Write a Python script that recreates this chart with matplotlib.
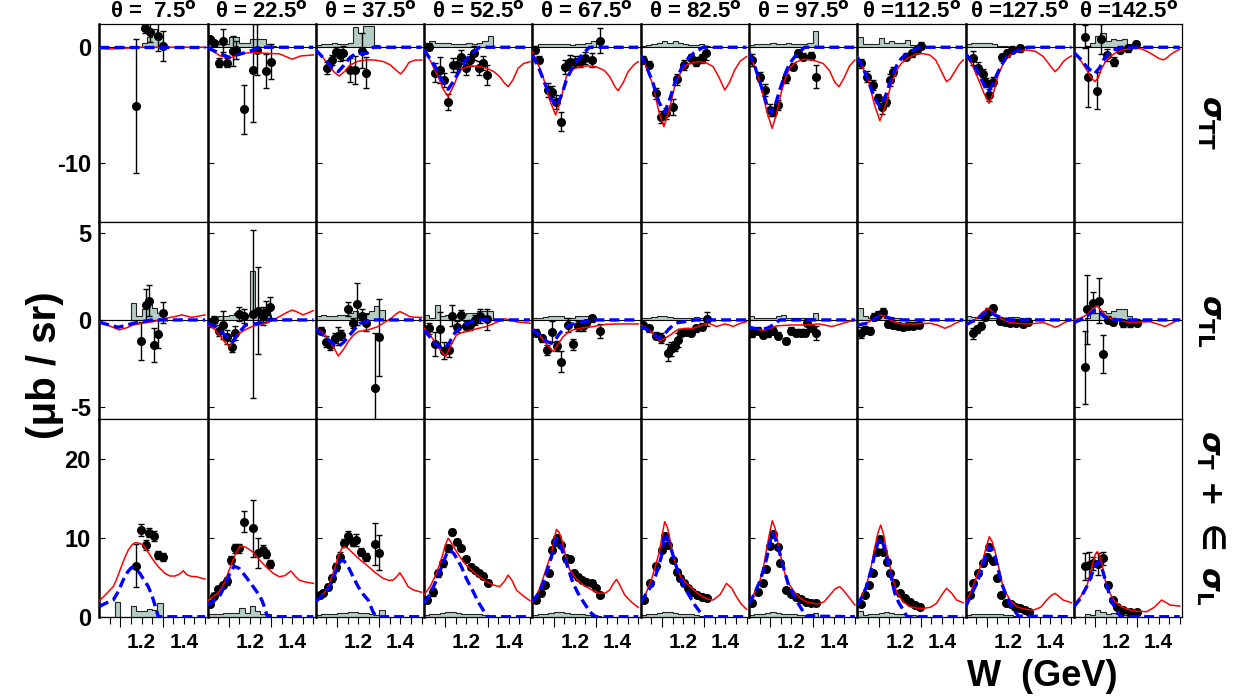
import matplotlib.pyplot as plt
from matplotlib.ticker import FixedLocator, NullFormatter, FixedFormatter

plt.rcParams['font.family'] = ['Liberation Sans', 'DejaVu Sans']
plt.rcParams['font.weight'] = 'bold'
plt.rcParams['axes.unicode_minus'] = False

# angoli (gradi) delle colonne
angles = [7.5, 22.5, 37.5, 52.5, 67.5, 82.5, 97.5, 112.5, 127.5, 142.5]

# bin dell'errore sistematico (GeV)
sys_edges = [1.0, 1.025, 1.05, 1.075, 1.1, 1.125, 1.15, 1.175, 1.2, 1.225, 1.25, 1.275, 1.3, 1.325]

# ---------------- sigma_TT ----------------
TT_W = [
    [1.173, 1.216, 1.239, 1.279, 1.299],
    [1.011, 1.031, 1.052, 1.071, 1.093, 1.118, 1.134, 1.173, 1.216, 1.232, 1.276, 1.300],
    [1.054, 1.074, 1.094, 1.113, 1.129, 1.16, 1.184, 1.216, 1.236],
    [1.024, 1.05, 1.074, 1.093, 1.113, 1.137, 1.153, 1.176, 1.197, 1.216, 1.236, 1.26, 1.276, 1.298],
    [1.011, 1.031, 1.074, 1.09, 1.113, 1.137, 1.153, 1.176, 1.2, 1.224, 1.247, 1.279, 1.318],
    [1.011, 1.039, 1.071, 1.094, 1.118, 1.15, 1.169, 1.205, 1.236, 1.26, 1.29, 1.31],
    [1.016, 1.05, 1.074, 1.098, 1.113, 1.137, 1.176, 1.208, 1.232, 1.257, 1.295, 1.315],
    [1.015, 1.047, 1.075, 1.096, 1.115, 1.135, 1.154, 1.169, 1.229, 1.256, 1.28, 1.3],
    [1.033, 1.06, 1.08, 1.096, 1.112, 1.128, 1.17, 1.194, 1.217, 1.257],
    [1.052, 1.068, 1.107, 1.13, 1.154, 1.189, 1.217, 1.257, 1.293],
]
TT_V = [
    [-5.06, 1.64, 1.29, 0.98, 0.11],
    [0.69, 0.34, -1.32, 0.55, -1.32, -0.29, -0.23, -5.34, -1.95, -0.23, -2.04, -1.24],
    [-1.81, -1.09, -0.37, -0.66, -0.52, -1.95, -1.95, -0.29, -2.18],
    [0.06, -2.18, -1.95, -2.82, -4.68, -1.52, -1.52, -0.8, -1.81, -1.09, -0.52, -1.81, -1.38, -2.39],
    [-0.23, -1.09, -3.68, -3.82, -4.68, -6.4, -1.67, -1.24, -1.24, -1.24, -0.95, -1.09, 0.57],
    [-1.09, -1.52, -3.97, -5.98, -5.69, -5.11, -2.76, -1.52, -0.95, -1.24, -0.95, -0.52],
    [-1.09, -2.53, -3.68, -5.4, -5.55, -4.97, -2.67, -1.67, -0.52, -0.8, -0.75, -2.53],
    [-1.38, -2.53, -3.25, -4.4, -5.11, -4.68, -2.82, -2.1, -0.8, -0.52, -0.23, 0.11],
    [-0.95, -1.81, -2.3, -3.05, -4.11, -2.96, -0.86, -0.52, -0.23, -0.09],
    [0.92, -2.53, -3.74, 0.69, -0.66, -1.24, -0.23, -0.09, 0.26],
]
TT_E = [
    [5.8, 0.4, 0.8, 1.3, 1.3],
    [0.2, 0.2, 0.4, 1.0, 0.4, 1.3, 0.8, 2.1, 4.5, 2.2, 1.5, 1.5],
    [0.5, 0.4, 0.4, 0.5, 0.6, 1.0, 1.2, 1.5, 1.3],
    [0.3, 0.8, 1.1, 0.6, 0.7, 0.6, 0.6, 0.6, 0.6, 0.5, 0.6, 0.6, 0.6, 0.9],
    [0.3, 0.3, 0.6, 0.5, 0.6, 0.8, 0.6, 0.6, 0.5, 0.5, 0.5, 0.6, 1.1],
    [0.3, 0.3, 0.5, 0.5, 0.5, 0.7, 0.5, 0.4, 0.4, 0.4, 0.4, 0.6],
    [0.5, 0.4, 0.5, 0.5, 0.4, 0.4, 0.4, 0.3, 0.3, 0.3, 0.3, 1.0],
    [0.4, 0.5, 0.4, 0.4, 0.6, 0.4, 0.5, 0.4, 0.3, 0.3, 0.3, 0.3],
    [0.6, 0.5, 0.4, 0.4, 0.5, 0.4, 0.3, 0.3, 0.3, 0.3],
    [1.0, 2.6, 1.6, 1.3, 0.5, 0.4, 0.3, 0.3, 0.3],
]
TT_red_W = [
    [1.0, 1.05, 1.1, 1.15, 1.2, 1.3, 1.4, 1.5],
    [1.0, 1.03, 1.06, 1.1, 1.14, 1.18, 1.22, 1.28, 1.34, 1.37, 1.40, 1.44, 1.5],
    [1.0, 1.03, 1.06, 1.09, 1.11, 1.135, 1.16, 1.2, 1.24, 1.28, 1.32, 1.35, 1.375, 1.4, 1.42, 1.44, 1.47, 1.5],
    [1.0, 1.03, 1.066, 1.09, 1.113, 1.14, 1.169, 1.2, 1.23, 1.26, 1.295, 1.33, 1.357, 1.38, 1.397, 1.42, 1.444, 1.47, 1.5],
    [1.0, 1.03, 1.05, 1.08, 1.11, 1.135, 1.16, 1.19, 1.224, 1.26, 1.30, 1.34, 1.365, 1.39, 1.405, 1.43, 1.452, 1.48, 1.5],
    [1.0, 1.03, 1.058, 1.085, 1.109, 1.135, 1.161, 1.19, 1.216, 1.25, 1.279, 1.31, 1.342, 1.37, 1.397, 1.42, 1.444, 1.47, 1.5],
    [1.0, 1.03, 1.058, 1.085, 1.109, 1.13, 1.153, 1.175, 1.192, 1.22, 1.255, 1.30, 1.35, 1.38, 1.405, 1.425, 1.45, 1.475, 1.5],
    [1.0, 1.05, 1.08, 1.106, 1.13, 1.161, 1.185, 1.208, 1.24, 1.28, 1.31, 1.342, 1.37, 1.39, 1.421, 1.44, 1.46, 1.48, 1.5],
    [1.0, 1.03, 1.055, 1.085, 1.11, 1.13, 1.154, 1.18, 1.21, 1.25, 1.29, 1.33, 1.367, 1.4, 1.422, 1.44, 1.461, 1.48, 1.5],
    [1.0, 1.03, 1.06, 1.08, 1.099, 1.115, 1.131, 1.15, 1.17, 1.2, 1.233, 1.27, 1.31, 1.34, 1.375, 1.4, 1.422, 1.44, 1.454, 1.48, 1.5],
]
TT_red = [
    [-0.1, -0.15, -0.1, -0.05, 0.0, 0.0, 0.0, 0.0],
    [-0.1, -0.4, -0.75, -0.95, -0.7, -0.5, -0.46, -0.52, -0.57, -0.8, -1.03, -0.75, -0.66],
    [-0.23, -0.8, -1.55, -2.2, -2.47, -2.1, -1.55, -1.2, -1.09, -1.1, -1.24, -1.5, -1.9, -2.3, -1.9, -1.3, -1.1, -1.1],
    [-0.23, -1.2, -2.53, -3.6, -4.25, -3.3, -1.95, -1.7, -1.61, -1.65, -1.81, -2.1, -2.53, -3.1, -3.39, -2.8, -1.81, -1.4, -1.24],
    [-0.4, -1.6, -2.53, -4.5, -5.83, -4.4, -2.53, -1.9, -1.67, -1.6, -1.67, -2.0, -2.53, -3.4, -3.74, -3.0, -2.1, -1.5, -1.24],
    [-0.66, -1.9, -3.25, -5.5, -6.84, -5.4, -3.25, -2.1, -1.52, -1.3, -1.24, -1.35, -1.67, -2.6, -3.68, -3.0, -1.95, -1.2, -0.8],
    [-0.52, -1.8, -3.5, -5.6, -6.98, -5.7, -3.82, -2.5, -1.81, -1.3, -1.03, -1.1, -1.4, -2.0, -3.0, -3.4, -2.6, -1.6, -1.1],
    [-0.8, -2.7, -4.9, -6.32, -5.2, -3.1, -2.0, -1.38, -0.9, -0.57, -0.55, -0.66, -1.1, -1.81, -2.96, -2.7, -2.1, -1.5, -1.09],
    [-0.66, -1.5, -2.53, -3.9, -4.83, -4.0, -2.39, -1.3, -0.66, -0.35, -0.23, -0.35, -0.8, -1.6, -2.1, -1.8, -1.24, -0.95, -0.75],
    [-0.4, -1.1, -1.95, -2.6, -2.96, -2.6, -1.81, -1.2, -0.8, -0.45, -0.23, -0.1, -0.09, -0.3, -0.66, -0.95, -1.09, -0.9, -0.66, -0.35, -0.17],
]
TT_blue_W = [
    [1.0, 1.5],
    [1.0, 1.05, 1.1, 1.15, 1.2, 1.244, 1.5],
    [1.0, 1.05, 1.08, 1.106, 1.13, 1.16, 1.19, 1.24, 1.26, 1.27, 1.5],
    [1.0, 1.05, 1.085, 1.113, 1.14, 1.17, 1.2, 1.235, 1.263, 1.5],
    [1.0, 1.03, 1.058, 1.085, 1.113, 1.14, 1.16, 1.185, 1.208, 1.24, 1.27, 1.5],
    [1.0, 1.03, 1.058, 1.085, 1.113, 1.14, 1.16, 1.19, 1.216, 1.25, 1.295, 1.5],
    [1.0, 1.03, 1.058, 1.085, 1.106, 1.125, 1.145, 1.17, 1.192, 1.225, 1.263, 1.5],
    [1.0, 1.025, 1.05, 1.08, 1.106, 1.135, 1.161, 1.185, 1.208, 1.25, 1.295, 1.5],
    [1.0, 1.025, 1.052, 1.08, 1.107, 1.128, 1.146, 1.17, 1.194, 1.24, 1.29, 1.5],
    [1.0, 1.03, 1.06, 1.08, 1.099, 1.12, 1.139, 1.16, 1.186, 1.233, 1.5],
]
TT_blue = [
    [0.0, 0.0],
    [-0.05, -0.45, -0.86, -0.6, -0.35, 0.0, 0.0],
    [-0.23, -1.2, -1.8, -2.1, -1.6, -0.9, -0.52, -0.52, -0.3, 0.0, 0.0],
    [-0.23, -1.6, -2.9, -3.62, -2.9, -1.9, -1.0, -0.4, 0.0, 0.0],
    [-0.66, -1.8, -3.1, -4.3, -5.1, -4.0, -2.82, -1.9, -1.24, -0.5, 0.0, 0.0],
    [-0.66, -1.8, -3.1, -4.7, -5.6, -4.3, -3.1, -1.9, -1.09, -0.5, 0.0, 0.0],
    [-0.46, -1.8, -3.39, -5.0, -5.69, -4.9, -3.68, -2.3, -1.38, -0.6, 0.0, 0.0],
    [-0.86, -1.7, -2.82, -4.3, -5.11, -4.1, -2.67, -1.6, -0.95, -0.35, 0.0, 0.0],
    [-0.52, -1.2, -1.95, -3.0, -3.82, -3.2, -2.39, -1.5, -0.8, -0.3, 0.0, 0.0],
    [-0.46, -1.0, -1.67, -2.0, -2.24, -1.8, -1.09, -0.6, -0.23, 0.0, 0.0],
]
TT_sys = [
    [0, 0, 0, 0, 0, 0, 0, 0, 0.4, 0.9, 1.6, 1.0, 0],
    [0.8, 0.5, 0.3, 0.3, 0.9, 0.9, 0.4, 0.4, 0.7, 0.7, 0.7, 0.3, 0.1],
    [0.2, 0.3, 0.3, 0.4, 0.3, 0.3, 0.4, 1.7, 1.2, 1.8, 1.8, 0.2, 0],
    [0.4, 0.5, 0.4, 0.4, 0.4, 0.3, 0.3, 0.3, 0.4, 0.3, 0.4, 0.5, 1.0],
    [0.1, 0.3, 0.3, 0.3, 0.3, 0.3, 0.3, 0.2, 0.3, 0.3, 0.4, 0.5, 0],
    [0.1, 0.2, 0.3, 0.4, 0.5, 0.4, 0.5, 0.4, 0.3, 0.2, 0.2, 0.3, 0.1],
    [0.2, 0.3, 0.3, 0.3, 0.4, 0.3, 0.3, 0.4, 0.3, 0.3, 0.3, 0.4, 1.4],
    [0.9, 0.3, 0.3, 0.3, 0.8, 0.4, 0.5, 0.4, 0.4, 0.6, 0.2, 0.2, 0],
    [0.3, 0.4, 0.4, 0.4, 0.35, 0.3, 0.15, 0.1, 0.05, 0.05, 0, 0, 0],
    [0, 0, 0, 0.4, 1.0, 1.2, 0.5, 0.7, 0.6, 0.7, 0.3, 0.1, 0],
]

# ---------------- sigma_TL ----------------
TL_W = [
    [1.195, 1.219, 1.235, 1.258, 1.279, 1.299],
    [1.011, 1.031, 1.055, 1.071, 1.09, 1.115, 1.129, 1.15, 1.173, 1.216, 1.236, 1.26, 1.276, 1.295],
    [1.022, 1.05, 1.069, 1.09, 1.106, 1.121, 1.153, 1.176, 1.195, 1.216, 1.236, 1.279, 1.298],
    [1.024, 1.05, 1.074, 1.093, 1.118, 1.132, 1.156, 1.176, 1.2, 1.216, 1.239, 1.263, 1.295],
    [1.016, 1.043, 1.069, 1.094, 1.117, 1.137, 1.168, 1.192, 1.216, 1.24, 1.255, 1.279, 1.318],
    [1.011, 1.039, 1.071, 1.094, 1.13, 1.145, 1.16, 1.176, 1.192, 1.216, 1.239, 1.26, 1.29, 1.313],
    [1.016, 1.043, 1.066, 1.09, 1.113, 1.137, 1.173, 1.2, 1.22, 1.244, 1.263, 1.275, 1.295, 1.315],
    [1.015, 1.035, 1.059, 1.078, 1.099, 1.119, 1.146, 1.17, 1.193, 1.217, 1.241, 1.264, 1.292],
    [1.033, 1.052, 1.07, 1.09, 1.107, 1.128, 1.162, 1.186, 1.21, 1.24, 1.273, 1.296],
    [1.052, 1.063, 1.091, 1.118, 1.135, 1.162, 1.186, 1.233, 1.265, 1.296],
]
TL_V = [
    [-1.21, 0.86, 1.11, -1.44, -0.8, 0.42],
    [-0.19, 0.0, -0.61, -0.29, -0.96, -1.53, -0.77, 0.34, 0.23, 0.34, 0.54, 0.23, 0.48, 0.73],
    [-0.61, -1.25, -1.44, -1.05, -0.92, -0.86, 0.61, -0.19, 0.92, 0.23, -0.15, -3.93, -1.0],
    [-0.48, -1.4, -0.54, -1.76, -1.72, 0.23, -0.38, 0.29, -0.34, -0.29, 0.0, 0.23, 0.04],
    [-0.73, -1.05, -1.72, -0.67, -1.49, -2.39, -0.29, -1.4, -0.34, -0.34, -0.19, 0.1, -0.61],
    [-0.29, -0.48, -0.92, -1.05, -1.88, -1.69, -1.49, -1.15, -0.73, -0.67, -0.73, -0.48, -0.38, 0.04],
    [-0.77, -0.61, -0.86, -0.77, -0.61, -0.92, -1.21, -0.61, -0.73, -0.73, -0.73, -0.15, -0.48, -0.77],
    [-0.73, -0.57, -0.61, 0.19, 0.29, 0.48, -0.23, -0.29, -0.34, -0.38, -0.34, -0.34, -0.29],
    [-0.77, -0.54, -0.34, 0.19, 0.48, 0.67, -0.04, -0.1, -0.15, -0.15, -0.23, -0.1],
    [-2.72, 0.61, 1.0, 1.11, -1.95, 0.0, -0.1, -0.19, -0.19, -0.15],
]
TL_E = [
    [1.1, 0.9, 0.9, 1.0, 0.8, 0.6],
    [0.2, 0.2, 0.3, 0.8, 0.4, 0.3, 0.4, 0.4, 0.4, 4.8, 2.5, 0.5, 0.6, 0.6],
    [0.2, 0.3, 0.3, 0.3, 0.5, 0.3, 0.4, 0.3, 1.2, 0.4, 0.5, 3.2, 2.2],
    [0.3, 0.7, 1.0, 0.5, 0.4, 0.6, 0.3, 0.3, 0.3, 0.3, 0.3, 0.4, 0.6],
    [0.2, 0.2, 0.3, 0.6, 0.3, 0.6, 0.4, 0.3, 0.3, 0.3, 0.2, 0.2, 0.4],
    [0.2, 0.2, 0.2, 0.3, 0.5, 0.4, 0.3, 0.4, 0.2, 0.2, 0.2, 0.2, 0.2, 0.4],
    [0.2, 0.2, 0.2, 0.2, 0.2, 0.2, 0.2, 0.2, 0.2, 0.2, 0.2, 0.2, 0.2, 0.4],
    [0.3, 0.2, 0.2, 0.2, 0.2, 0.2, 0.2, 0.2, 0.2, 0.2, 0.2, 0.2, 0.2],
    [0.3, 0.2, 0.2, 0.2, 0.2, 0.2, 0.2, 0.2, 0.2, 0.2, 0.2, 0.2],
    [2.1, 2.0, 0.6, 1.3, 1.1, 0.2, 0.2, 0.2, 0.2, 0.2],
]
TL_red_W = [
    [1.0, 1.05, 1.094, 1.13, 1.16, 1.2, 1.255, 1.318, 1.36, 1.39, 1.436, 1.47, 1.5],
    [1.0, 1.03, 1.055, 1.08, 1.102, 1.125, 1.15, 1.18, 1.21, 1.24, 1.276, 1.31, 1.34, 1.37, 1.40, 1.425, 1.45, 1.475, 1.5],
    [1.0, 1.03, 1.058, 1.085, 1.106, 1.13, 1.153, 1.175, 1.2, 1.255, 1.29, 1.318, 1.357, 1.38, 1.397, 1.42, 1.444, 1.47, 1.5],
    [1.0, 1.03, 1.05, 1.08, 1.102, 1.125, 1.153, 1.185, 1.216, 1.25, 1.295, 1.34, 1.38, 1.41, 1.436, 1.47, 1.5],
    [1.0, 1.03, 1.05, 1.075, 1.098, 1.12, 1.145, 1.17, 1.192, 1.24, 1.287, 1.35, 1.413, 1.46, 1.5],
    [1.0, 1.03, 1.05, 1.07, 1.09, 1.115, 1.14, 1.176, 1.21, 1.247, 1.29, 1.318, 1.34, 1.357, 1.38, 1.397, 1.42, 1.436, 1.47, 1.5],
    [1.0, 1.03, 1.066, 1.1, 1.13, 1.2, 1.27, 1.33, 1.36, 1.39, 1.415, 1.444, 1.47, 1.5],
    [1.0, 1.025, 1.05, 1.08, 1.106, 1.13, 1.154, 1.18, 1.208, 1.24, 1.28, 1.342, 1.38, 1.413, 1.44, 1.47, 1.5],
    [1.0, 1.025, 1.052, 1.08, 1.107, 1.13, 1.154, 1.18, 1.21, 1.25, 1.29, 1.33, 1.367, 1.4, 1.422, 1.44, 1.461, 1.48, 1.5],
    [1.0, 1.03, 1.06, 1.085, 1.107, 1.127, 1.147, 1.17, 1.2, 1.265, 1.32, 1.36, 1.4, 1.43, 1.46, 1.5],
]
TL_red = [
    [-0.1, -0.35, -0.57, -0.45, -0.29, -0.2, -0.1, 0.1, 0.2, 0.29, 0.15, 0.22, 0.29],
    [-0.29, -0.5, -0.86, -1.25, -1.53, -1.2, -0.77, -0.55, -0.38, -0.28, -0.19, 0.0, 0.19, 0.4, 0.57, 0.45, 0.29, 0.4, 0.54],
    [-0.48, -0.7, -1.05, -1.6, -2.07, -1.7, -1.25, -0.9, -0.67, -0.54, -0.4, -0.19, 0.1, 0.35, 0.48, 0.35, 0.19, 0.15, 0.15],
    [-0.48, -0.9, -1.25, -1.8, -2.1, -1.5, -0.86, -0.7, -0.61, -0.5, -0.38, -0.15, 0.06, 0.0, -0.11, -0.15, -0.19],
    [-0.54, -0.8, -1.15, -1.5, -1.82, -1.4, -0.96, -0.7, -0.57, -0.45, -0.38, -0.25, -0.23, -0.23, -0.23],
    [-0.29, -0.5, -0.7, -0.95, -1.19, -1.05, -0.86, -0.54, -0.5, -0.48, -0.3, -0.19, -0.28, -0.38, -0.3, -0.23, -0.3, -0.38, -0.2, -0.1],
    [-0.38, -0.5, -0.61, -0.5, -0.34, -0.29, -0.29, -0.23, -0.3, -0.38, -0.3, -0.19, -0.1, 0.0],
    [-0.29, -0.2, -0.15, 0.1, 0.29, 0.2, 0.0, -0.15, -0.23, -0.23, -0.23, -0.19, -0.3, -0.48, -0.35, -0.15, 0.0],
    [-0.29, -0.15, 0.1, 0.45, 0.67, 0.45, 0.19, 0.0, -0.15, -0.2, -0.23, -0.2, -0.15, -0.3, -0.42, -0.35, -0.19, -0.08, 0.0],
    [0.0, 0.1, 0.29, 0.6, 0.8, 0.6, 0.29, 0.1, 0.0, -0.15, -0.12, -0.1, -0.25, -0.38, -0.2, 0.04],
]
TL_blue_W = [
    [1.0, 1.05, 1.09, 1.13, 1.16, 1.2, 1.25, 1.5],
    [1.0, 1.04, 1.08, 1.118, 1.15, 1.18, 1.244, 1.28, 1.5],
    [1.0, 1.05, 1.08, 1.106, 1.13, 1.16, 1.185, 1.208, 1.24, 1.26, 1.5],
    [1.0, 1.05, 1.075, 1.098, 1.12, 1.137, 1.16, 1.184, 1.22, 1.263, 1.5],
    [1.0, 1.05, 1.07, 1.09, 1.11, 1.129, 1.15, 1.176, 1.24, 1.287, 1.5],
    [1.0, 1.05, 1.07, 1.09, 1.11, 1.129, 1.15, 1.176, 1.22, 1.26, 1.5],
    [1.0, 1.03, 1.066, 1.09, 1.113, 1.145, 1.5],
    [1.0, 1.05, 1.08, 1.106, 1.13, 1.154, 1.185, 1.216, 1.5],
    [1.0, 1.025, 1.052, 1.075, 1.099, 1.12, 1.146, 1.18, 1.21, 1.5],
    [1.0, 1.03, 1.06, 1.08, 1.099, 1.12, 1.139, 1.16, 1.186, 1.5],
]
TL_blue = [
    [-0.13, -0.3, -0.42, -0.3, -0.19, -0.1, 0.0, 0.0],
    [-0.19, -0.4, -0.85, -1.25, -0.7, -0.29, -0.19, 0.0, 0.0],
    [-0.52, -1.05, -1.35, -1.53, -1.3, -0.86, -0.5, -0.19, -0.1, 0.0, 0.0],
    [-0.57, -1.34, -1.55, -1.63, -1.3, -0.86, -0.55, -0.29, -0.12, 0.0, 0.0],
    [-0.54, -1.05, -1.25, -1.34, -1.1, -0.77, -0.5, -0.29, -0.1, 0.0, 0.0],
    [-0.38, -0.67, -0.9, -1.05, -0.85, -0.57, -0.33, -0.15, -0.08, 0.0, 0.0],
    [-0.42, -0.5, -0.54, -0.45, -0.29, 0.0, 0.0],
    [-0.29, -0.19, 0.05, 0.23, 0.2, 0.1, 0.04, 0.0, 0.0],
    [-0.29, -0.12, 0.0, 0.25, 0.48, 0.4, 0.23, 0.08, 0.0, 0.0],
    [-0.15, 0.0, 0.19, 0.4, 0.57, 0.45, 0.23, 0.08, 0.0, 0.0],
]
TL_sys = [
    [0, 0, 0, 0, 0, 0, 1.0, 0.2, 0.6, 0.9, 0.7, 0.4, 0],
    [0.1, 0.15, 0.2, 0.2, 0.3, 0.4, 0.2, 0.2, 2.8, 0.4, 0.2, 0.3, 0.1],
    [0.2, 0.3, 0.2, 0.2, 0.3, 0.3, 0.4, 0.5, 0.4, 0.4, 0.5, 0.8, 0.55],
    [0.3, 0.1, 0.85, 0.2, 0.3, 0.2, 0.2, 0.3, 0.4, 0.4, 0.5, 0.5, 0.5],
    [0.1, 0.1, 0.15, 0.2, 0.2, 0.2, 0.1, 0.1, 0.2, 0.25, 0.2, 0.1, 0],
    [0.1, 0.1, 0.15, 0.2, 0.2, 0.15, 0.1, 0.1, 0.1, 0.1, 0.15, 0.1, 0.05],
    [0.25, 0.1, 0.1, 0.1, 0.1, 0.2, 0.3, 0.1, 0.1, 0.1, 0.1, 0.1, 0.4],
    [0.7, 0.2, 0.1, 0.2, 0.2, 0.1, 0.1, 0.1, 0, 0, 0, 0, 0],
    [0.25, 0.15, 0.1, 0.1, 0.1, 0.1, 0.1, 0.1, 0.15, 0.15, 0.1, 0, 0],
    [0, 0, 0.1, 0.6, 0.4, 0.5, 0.4, 0.5, 0.6, 0.6, 0.2, 0, 0],
]

# ---------------- sigma_T + eps sigma_L ----------------
ST_W = [
    [1.173, 1.195, 1.219, 1.235, 1.258, 1.279, 1.299],
    [1.011, 1.031, 1.05, 1.071, 1.09, 1.11, 1.131, 1.15, 1.173, 1.216, 1.236, 1.26, 1.276, 1.295],
    [1.019, 1.035, 1.058, 1.077, 1.094, 1.113, 1.134, 1.153, 1.176, 1.192, 1.213, 1.236, 1.279, 1.298],
    [1.014, 1.043, 1.066, 1.09, 1.113, 1.132, 1.156, 1.176, 1.2, 1.219, 1.239, 1.26, 1.279, 1.3],
    [1.016, 1.038, 1.058, 1.079, 1.094, 1.105, 1.117, 1.137, 1.157, 1.176, 1.195, 1.216, 1.236, 1.255, 1.279, 1.3, 1.318],
    [1.014, 1.043, 1.074, 1.098, 1.113, 1.129, 1.15, 1.169, 1.184, 1.203, 1.224, 1.244, 1.266, 1.29, 1.313],
    [1.016, 1.043, 1.066, 1.082, 1.098, 1.113, 1.137, 1.148, 1.173, 1.2, 1.22, 1.244, 1.268, 1.295, 1.315],
    [1.015, 1.036, 1.056, 1.075, 1.091, 1.107, 1.12, 1.138, 1.154, 1.178, 1.201, 1.225, 1.248, 1.272, 1.296],
    [1.02, 1.036, 1.06, 1.08, 1.099, 1.112, 1.131, 1.146, 1.165, 1.19, 1.212, 1.233, 1.257, 1.28, 1.3],
    [1.052, 1.073, 1.091, 1.115, 1.135, 1.162, 1.183, 1.205, 1.233, 1.265, 1.296],
]
ST_V = [
    [6.46, 10.97, 9.07, 10.63, 10.21, 7.81, 7.51],
    [1.6, 2.66, 3.5, 4.0, 4.56, 7.17, 8.65, 8.65, 12.03, 11.18, 8.1, 8.44, 7.93, 6.67],
    [2.74, 3.04, 3.8, 4.85, 6.33, 7.59, 9.28, 10.21, 9.49, 9.7, 8.23, 7.59, 9.2, 8.1],
    [2.11, 3.16, 5.49, 6.75, 8.65, 10.76, 9.49, 8.65, 7.26, 6.33, 5.91, 5.49, 5.19, 4.3],
    [2.11, 2.95, 4.01, 5.49, 8.44, 9.49, 9.92, 9.07, 7.38, 7.26, 5.49, 5.06, 4.64, 4.43, 4.22, 3.59, 2.74],
    [2.11, 4.22, 6.41, 8.44, 10.21, 9.07, 7.17, 5.7, 4.85, 4.22, 3.59, 3.16, 2.74, 2.53, 2.32],
    [1.77, 3.16, 4.22, 5.99, 8.95, 10.46, 8.86, 6.75, 3.38, 2.87, 2.53, 2.19, 1.9, 1.77, 1.77],
    [1.6, 2.74, 4.01, 5.49, 8.23, 9.79, 8.23, 6.96, 5.49, 4.22, 2.95, 2.32, 1.9, 1.48, 1.27],
    [2.74, 4.22, 5.49, 6.75, 7.59, 8.78, 7.09, 4.85, 2.74, 1.77, 1.6, 1.27, 1.05, 0.84, 0.63],
    [6.41, 6.54, 6.75, 6.67, 7.38, 4.01, 2.11, 1.27, 0.84, 0.63, 0.55],
]
ST_E = [
    [2.7, 0.8, 0.6, 0.6, 0.6, 0.5, 0.5],
    [0.3, 0.3, 0.3, 0.4, 0.5, 0.5, 0.6, 0.6, 1.3, 3.6, 1.9, 0.6, 0.5, 0.5],
    [0.3, 0.3, 0.4, 0.4, 0.5, 0.6, 0.5, 0.6, 0.5, 0.8, 0.5, 0.5, 2.6, 2.2],
    [0.4, 0.5, 0.4, 0.4, 0.4, 0.4, 0.3, 0.3, 0.3, 0.3, 0.3, 0.3, 0.3, 0.3],
    [0.3, 0.3, 0.3, 0.3, 0.4, 0.4, 0.4, 0.3, 0.4, 0.3, 0.3, 0.3, 0.3, 0.3, 0.3, 0.3, 0.3],
    [0.3, 0.3, 0.3, 0.3, 0.3, 0.3, 0.3, 0.3, 0.3, 0.3, 0.3, 0.3, 0.3, 0.3, 0.3],
    [0.3, 0.3, 0.3, 0.3, 0.3, 0.3, 0.3, 0.3, 0.3, 0.3, 0.3, 0.3, 0.3, 0.3, 0.3],
    [0.3, 0.3, 0.3, 0.3, 0.3, 0.3, 0.3, 0.3, 0.3, 0.3, 0.3, 0.3, 0.3, 0.3, 0.3],
    [0.3, 0.3, 0.3, 0.3, 0.3, 0.3, 0.3, 0.3, 0.3, 0.3, 0.3, 0.3, 0.3, 0.3, 0.3],
    [1.7, 1.7, 0.8, 1.4, 0.8, 0.4, 0.3, 0.3, 0.3, 0.3, 0.3],
]
ST_red_W = [
    [1.0, 1.03, 1.066, 1.08, 1.098, 1.118, 1.137, 1.155, 1.169, 1.19, 1.208, 1.23, 1.255, 1.28, 1.31, 1.335, 1.358, 1.38, 1.397, 1.415, 1.435, 1.46, 1.48, 1.5],
    [1.0, 1.03, 1.055, 1.08, 1.102, 1.13, 1.153, 1.18, 1.213, 1.245, 1.276, 1.31, 1.339, 1.365, 1.394, 1.415, 1.433, 1.46, 1.5],
    [1.0, 1.03, 1.058, 1.085, 1.106, 1.12, 1.132, 1.15, 1.168, 1.2, 1.24, 1.28, 1.318, 1.345, 1.365, 1.38, 1.397, 1.415, 1.436, 1.46, 1.49, 1.5],
    [1.0, 1.03, 1.058, 1.085, 1.1, 1.113, 1.128, 1.145, 1.168, 1.2, 1.232, 1.265, 1.295, 1.33, 1.357, 1.38, 1.397, 1.415, 1.436, 1.47, 1.5],
    [1.0, 1.03, 1.05, 1.07, 1.09, 1.103, 1.113, 1.125, 1.137, 1.155, 1.176, 1.21, 1.24, 1.28, 1.318, 1.345, 1.365, 1.38, 1.397, 1.415, 1.436, 1.47, 1.5],
    [1.0, 1.025, 1.05, 1.07, 1.09, 1.102, 1.113, 1.125, 1.137, 1.15, 1.169, 1.19, 1.216, 1.25, 1.279, 1.31, 1.342, 1.375, 1.405, 1.43, 1.452, 1.475, 1.5],
    [1.0, 1.025, 1.05, 1.068, 1.082, 1.097, 1.11, 1.123, 1.137, 1.153, 1.169, 1.19, 1.216, 1.24, 1.27, 1.3, 1.326, 1.355, 1.382, 1.405, 1.429, 1.45, 1.47, 1.5],
    [1.0, 1.02, 1.043, 1.065, 1.083, 1.097, 1.11, 1.124, 1.138, 1.16, 1.185, 1.215, 1.248, 1.28, 1.311, 1.345, 1.374, 1.4, 1.421, 1.445, 1.469, 1.5],
    [1.0, 1.025, 1.052, 1.07, 1.083, 1.098, 1.112, 1.125, 1.139, 1.16, 1.178, 1.21, 1.241, 1.28, 1.32, 1.355, 1.383, 1.405, 1.422, 1.44, 1.461, 1.5],
    [1.0, 1.03, 1.06, 1.078, 1.091, 1.101, 1.11, 1.12, 1.131, 1.143, 1.154, 1.175, 1.194, 1.23, 1.265, 1.3, 1.343, 1.38, 1.414, 1.435, 1.454, 1.48, 1.5],
]
ST_red = [
    [2.0, 2.8, 3.8, 4.6, 5.9, 7.3, 8.44, 9.1, 9.37, 9.3, 9.07, 8.2, 7.17, 6.3, 5.49, 5.15, 5.15, 5.4, 5.82, 5.3, 5.1, 5.06, 4.9, 4.77],
    [2.0, 2.6, 3.16, 4.3, 5.9, 7.8, 8.95, 8.8, 8.23, 7.2, 6.33, 5.5, 5.06, 5.2, 5.78, 5.1, 4.64, 4.4, 4.22],
    [1.9, 2.7, 3.8, 5.8, 7.59, 8.5, 8.86, 8.7, 8.23, 7.4, 6.54, 5.6, 4.85, 4.6, 4.64, 5.0, 5.57, 4.8, 3.8, 3.4, 3.16, 3.1],
    [2.8, 3.9, 5.49, 7.6, 9.1, 9.92, 9.4, 8.6, 7.59, 6.5, 5.7, 5.0, 4.43, 4.0, 3.8, 4.5, 5.27, 4.6, 3.38, 2.6, 2.03],
    [1.9, 3.3, 4.85, 6.5, 8.02, 9.8, 11.05, 10.7, 9.92, 7.9, 5.91, 4.7, 4.01, 3.4, 2.95, 3.0, 3.38, 4.1, 4.73, 3.9, 2.74, 1.8, 1.18],
    [1.7, 3.0, 4.64, 6.5, 8.44, 10.5, 12.03, 11.4, 9.92, 8.0, 6.33, 5.0, 4.22, 3.4, 2.74, 2.3, 2.11, 2.8, 4.22, 3.6, 2.53, 1.6, 0.93],
    [1.8, 3.0, 4.43, 6.3, 8.44, 10.6, 12.15, 11.2, 9.28, 7.2, 5.49, 4.1, 3.04, 2.4, 1.9, 1.7, 1.6, 1.9, 2.74, 3.5, 3.8, 3.2, 2.53, 1.48],
    [1.69, 2.6, 4.01, 6.3, 8.86, 10.6, 11.6, 10.4, 8.44, 5.6, 3.16, 1.9, 1.27, 1.1, 1.05, 1.2, 1.69, 2.8, 3.59, 3.0, 2.11, 1.77],
    [1.7, 3.2, 5.06, 6.4, 7.38, 8.9, 10.13, 9.5, 8.23, 5.8, 3.59, 2.1, 1.27, 0.95, 0.84, 1.2, 2.11, 2.7, 2.95, 2.6, 2.11, 1.77],
    [1.48, 2.5, 3.8, 5.5, 6.96, 7.9, 8.23, 7.8, 6.75, 5.2, 3.8, 2.7, 1.9, 1.2, 0.84, 0.7, 0.63, 1.2, 2.11, 1.8, 1.48, 1.4, 1.35],
]
ST_blue_W = [
    [1.0, 1.03, 1.066, 1.09, 1.113, 1.135, 1.153, 1.17, 1.192, 1.21, 1.232, 1.25, 1.263, 1.279, 1.5],
    [1.0, 1.03, 1.055, 1.08, 1.105, 1.126, 1.15, 1.181, 1.21, 1.244, 1.258, 1.268, 1.283, 1.5],
    [1.0, 1.03, 1.066, 1.09, 1.11, 1.121, 1.135, 1.153, 1.175, 1.2, 1.225, 1.247, 1.27, 1.285, 1.5],
    [1.0, 1.03, 1.058, 1.085, 1.105, 1.121, 1.14, 1.158, 1.176, 1.2, 1.232, 1.255, 1.279, 1.3, 1.5],
    [1.0, 1.03, 1.05, 1.07, 1.09, 1.103, 1.113, 1.125, 1.145, 1.17, 1.192, 1.215, 1.24, 1.26, 1.279, 1.3, 1.5],
    [1.0, 1.025, 1.058, 1.08, 1.097, 1.106, 1.113, 1.125, 1.145, 1.165, 1.184, 1.21, 1.232, 1.255, 1.279, 1.3, 1.5],
    [1.0, 1.025, 1.05, 1.07, 1.085, 1.098, 1.11, 1.125, 1.145, 1.165, 1.184, 1.21, 1.232, 1.25, 1.27, 1.5],
    [1.0, 1.02, 1.043, 1.065, 1.083, 1.097, 1.11, 1.124, 1.138, 1.158, 1.177, 1.197, 1.217, 1.235, 1.5],
    [1.0, 1.025, 1.052, 1.07, 1.083, 1.098, 1.112, 1.125, 1.139, 1.155, 1.17, 1.19, 1.209, 1.23, 1.249, 1.5],
    [1.0, 1.03, 1.06, 1.08, 1.091, 1.105, 1.115, 1.128, 1.139, 1.155, 1.17, 1.186, 1.202, 1.22, 1.5],
]
ST_blue = [
    [1.3, 1.7, 2.11, 3.2, 4.64, 5.7, 6.24, 6.1, 5.49, 4.7, 3.8, 2.6, 1.48, 0.0, 0.0],
    [1.48, 2.0, 2.53, 3.8, 5.5, 6.41, 6.1, 5.06, 4.0, 2.74, 2.0, 1.27, 0.0, 0.0],
    [1.9, 2.7, 3.8, 5.4, 6.8, 7.17, 7.0, 6.33, 5.1, 3.8, 2.8, 2.11, 0.63, 0.0, 0.0],
    [1.69, 3.0, 4.64, 6.5, 7.9, 8.44, 8.0, 7.2, 6.33, 4.8, 3.16, 1.9, 0.84, 0.0, 0.0],
    [1.9, 3.0, 4.22, 5.9, 7.59, 9.0, 9.92, 9.5, 8.02, 6.0, 4.22, 3.0, 1.9, 1.1, 0.42, 0.0, 0.0],
    [1.8, 2.9, 4.22, 6.0, 7.59, 9.3, 10.46, 10.0, 8.44, 6.6, 5.06, 3.6, 2.53, 1.5, 0.63, 0.0, 0.0],
    [1.6, 2.9, 4.43, 6.1, 7.6, 9.4, 10.63, 9.8, 8.02, 6.0, 4.22, 2.8, 1.69, 0.9, 0.08, 0.0],
    [1.48, 2.4, 3.8, 5.9, 8.02, 9.3, 9.92, 9.0, 7.59, 5.2, 2.95, 1.7, 0.84, 0.0, 0.0],
    [1.27, 2.7, 4.22, 5.5, 6.75, 7.9, 8.86, 8.4, 7.59, 5.8, 4.22, 2.8, 1.69, 0.8, 0.08, 0.0],
    [1.27, 2.3, 3.8, 5.0, 5.91, 6.7, 6.96, 6.5, 5.49, 4.0, 2.53, 1.5, 0.84, 0.0, 0.0],
]
ST_sys = [
    [0, 0, 0, 1.9, 0, 0, 1.4, 0.7, 0.7, 1.0, 0.8, 1.7, 0],
    [0.3, 0.3, 0.4, 0.5, 0.5, 0.5, 1.1, 0.5, 1.4, 0.7, 0.4, 0.3, 0],
    [0.2, 0.3, 0.35, 0.4, 0.45, 0.5, 0.55, 0.55, 0.5, 0.45, 0.4, 0.2, 0.8],
    [0.2, 0.3, 0.4, 0.5, 0.6, 0.55, 0.5, 0.4, 0.4, 0.3, 0.3, 0.2, 0.1],
    [0.2, 0.3, 0.4, 0.5, 0.6, 0.6, 0.5, 0.4, 0.35, 0.3, 0.2, 0.1, 0.05],
    [0.2, 0.3, 0.4, 0.5, 0.6, 0.6, 0.5, 0.4, 0.3, 0.3, 0.2, 0.1, 0.05],
    [0.2, 0.3, 0.4, 0.5, 0.55, 0.5, 0.4, 0.3, 0.3, 0.2, 0.2, 0.3, 0.5],
    [0.7, 0.2, 0.3, 0.4, 0.5, 0.6, 0.5, 0.4, 0.3, 0.2, 0.2, 0.1, 0],
    [0.2, 0.3, 0.3, 0.4, 0.4, 0.35, 0.3, 0.25, 0.2, 0.1, 0, 0, 0],
    [0, 0, 0.3, 0.2, 0.8, 0.6, 0.3, 0.5, 0.4, 0.2, 0.1, 0, 0],
]

# impostazioni delle tre righe
rows = [
    dict(W=TT_W, V=TT_V, E=TT_E, rw=TT_red_W, r=TT_red, bw=TT_blue_W, b=TT_blue, sys=TT_sys,
         ylim=(-15, 2), yticks=[-10, 0], label=r'$\sigma_{\mathrm{TT}}$'),
    dict(W=TL_W, V=TL_V, E=TL_E, rw=TL_red_W, r=TL_red, bw=TL_blue_W, b=TL_blue, sys=TL_sys,
         ylim=(-5.7, 5.65), yticks=[-5, 0, 5], label=r'$\sigma_{\mathrm{TL}}$'),
    dict(W=ST_W, V=ST_V, E=ST_E, rw=ST_red_W, r=ST_red, bw=ST_blue_W, b=ST_blue, sys=ST_sys,
         ylim=(0, 25), yticks=[0, 10, 20], label=r'$\sigma_{\mathrm{T}}\ \mathbf{+}\ \in\ \sigma_{\mathrm{L}}$'),
]

fig = plt.figure(figsize=(12.41, 6.96), dpi=100)
axs = fig.subplots(3, 10)
fig.subplots_adjust(left=0.080, right=0.9527, bottom=0.1139, top=0.9655, wspace=0, hspace=0)

for i, row in enumerate(rows):
    for j in range(10):
        ax = axs[i, j]
        ax.stairs(row['sys'][j], sys_edges, fill=True, color='#b5cec4', zorder=1)
        ax.stairs(row['sys'][j], sys_edges, baseline=0, color='#222222', lw=0.8, zorder=1.5)
        if i < 2:
            ax.axhline(0, color='black', lw=0.8, zorder=1.6)
        ax.errorbar(row['W'][j], row['V'][j], yerr=row['E'][j], fmt='o', color='black',
                    ms=5.5, elinewidth=1.0, capsize=2.5, capthick=1.0, zorder=3)
        ax.plot(row['rw'][j], row['r'][j], color='#ff0000', lw=1.1, zorder=4)
        ax.plot(row['bw'][j], row['b'][j], color='#0000ff', lw=2.4, ls=(0, (3.0, 1.5)), zorder=5)

        ax.set_xlim(1.0, 1.512)
        ax.set_ylim(*row['ylim'])
        ax.set_yticks(row['yticks'])
        ax.tick_params(axis='y', direction='in', length=4, width=0.8, labelsize=17, pad=6,
                       labelleft=(j == 0))
        for sp in ax.spines.values():
            sp.set_linewidth(0.9)
        ax.spines['left'].set_linewidth(1.8)

        if i < 2:
            ax.tick_params(axis='x', which='both', bottom=False, labelbottom=False)
        else:
            ax.xaxis.set_major_locator(FixedLocator([1.1, 1.3]))
            ax.xaxis.set_major_formatter(NullFormatter())
            ax.xaxis.set_minor_locator(FixedLocator([1.05, 1.15, 1.2, 1.25, 1.35, 1.4, 1.45, 1.5]))
            ax.xaxis.set_minor_formatter(FixedFormatter(['', '', '1.2', '', '', '1.4', '', '']))
            ax.tick_params(axis='x', which='major', direction='out', length=7, width=0.8)
            ax.tick_params(axis='x', which='minor', direction='out', length=5, width=0.8,
                           labelsize=15, pad=7)

    # etichetta a destra della riga
    yc = (axs[i, 9].get_position().y0 + axs[i, 9].get_position().y1) / 2
    fig.text(0.975, yc, row['label'], rotation=270, fontsize=22, fontweight='normal',
             ha='center', va='center')

for j, a in enumerate(angles):
    pos = axs[0, j].get_position()
    fig.text((pos.x0 + pos.x1) / 2, 0.983, f"θ ={a:5.1f}" + r"$^{\mathbf{o}}$",
             fontsize=16, ha='center', va='center')

fig.text(0.036, 0.475, '(μb / sr)', rotation=90, fontsize=29, ha='center', va='center')
fig.text(0.84, 0.028, 'W  (GeV)', fontsize=26, ha='center', va='center')

fig.savefig('out.png', dpi=100)
